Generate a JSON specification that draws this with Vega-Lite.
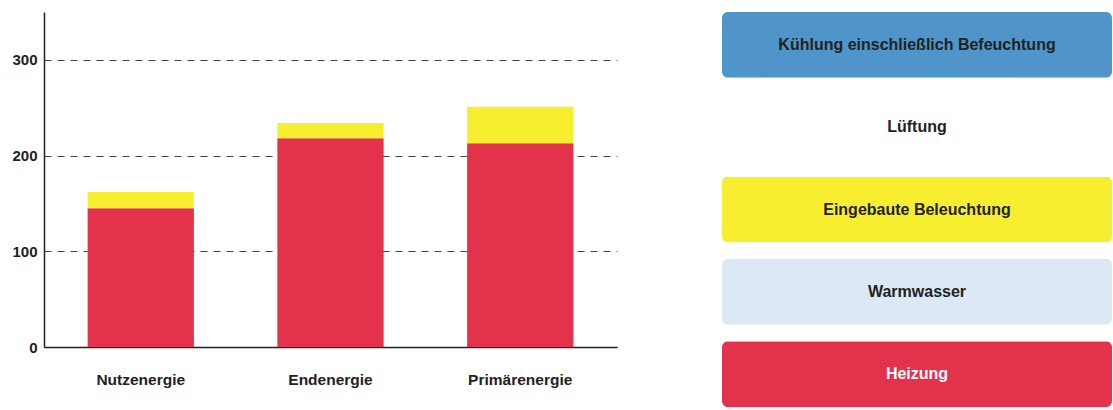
{
  "$schema": "https://vega.github.io/schema/vega-lite/v6.json",
  "padding": {"left": 11, "top": 12, "right": 0, "bottom": 0},
  "background": "white",
  "config": {
    "view": {"stroke": null},
    "font": "Liberation Sans"
  },
  "spacing": 105,
  "resolve": {"scale": {"color": "shared"}},
  "hconcat": [
    {
      "width": 573,
      "height": 335,
      "data": {"values": [
        {"energy": "Nutzenergie", "component": "Heizung", "value": 145},
        {"energy": "Nutzenergie", "component": "Eingebaute Beleuchtung", "value": 17},
        {"energy": "Endenergie", "component": "Heizung", "value": 218},
        {"energy": "Endenergie", "component": "Eingebaute Beleuchtung", "value": 16},
        {"energy": "Primärenergie", "component": "Heizung", "value": 213},
        {"energy": "Primärenergie", "component": "Eingebaute Beleuchtung", "value": 38}
      ]},
      "mark": {"type": "bar"},
      "encoding": {
        "x": {
          "field": "energy", "type": "nominal",
          "sort": ["Nutzenergie", "Endenergie", "Primärenergie"],
          "scale": {"paddingInner": 0.44, "paddingOuter": 0.23},
          "axis": {
            "title": null, "labelAngle": 0, "ticks": false, "labelPadding": 25,
            "labelFontSize": 15.5, "labelFontWeight": "bold", "labelColor": "#222",
            "domainColor": "#222", "domainWidth": 1.5
          }
        },
        "y": {
          "field": "value", "type": "quantitative", "stack": "zero",
          "scale": {"domain": [0, 350], "nice": false},
          "axis": {
            "title": null, "values": [0, 100, 200, 300], "ticks": false, "labelPadding": 7,
            "labelFontSize": 15, "labelFontWeight": "bold", "labelColor": "#222",
            "domainColor": "#222", "domainWidth": 1.5,
            "grid": true, "gridDash": [7, 6], "gridColor": "#444", "gridWidth": 1
          }
        },
        "color": {
          "field": "component", "type": "nominal",
          "scale": {
            "domain": ["Kühlung einschließlich Befeuchtung", "Lüftung", "Eingebaute Beleuchtung", "Warmwasser", "Heizung"],
            "range": ["#4f95c9", "#ffffff", "#f6ee2e", "#dce8f3", "#e2324c"]
          },
          "legend": null
        },
        "order": {"field": "component", "sort": "descending"}
      }
    },
    {
      "width": 390,
      "height": 395,
      "data": {"values": [
        {"component": "Kühlung einschließlich Befeuchtung", "v": 1},
        {"component": "Lüftung", "v": 1},
        {"component": "Eingebaute Beleuchtung", "v": 1},
        {"component": "Warmwasser", "v": 1},
        {"component": "Heizung", "v": 1}
      ]},
      "encoding": {
        "y": {
          "field": "component", "type": "nominal",
          "sort": ["Kühlung einschließlich Befeuchtung", "Lüftung", "Eingebaute Beleuchtung", "Warmwasser", "Heizung"],
          "scale": {"paddingInner": 0.2, "paddingOuter": 0},
          "axis": null
        }
      },
      "layer": [
        {
          "mark": {"type": "bar", "cornerRadius": 6},
          "encoding": {
            "x": {"field": "v", "type": "quantitative", "scale": {"domain": [0, 1]}, "axis": null},
            "color": {"field": "component", "type": "nominal", "legend": null}
          }
        },
        {
          "mark": {"type": "text", "fontSize": 16, "fontWeight": "bold", "align": "center", "baseline": "middle"},
          "encoding": {
            "x": {"datum": 0.5, "type": "quantitative"},
            "text": {"field": "component"},
            "color": {
              "condition": {"test": "datum.component === 'Heizung'", "value": "#ffffff"},
              "value": "#222222"
            }
          }
        }
      ]
    }
  ]
}
